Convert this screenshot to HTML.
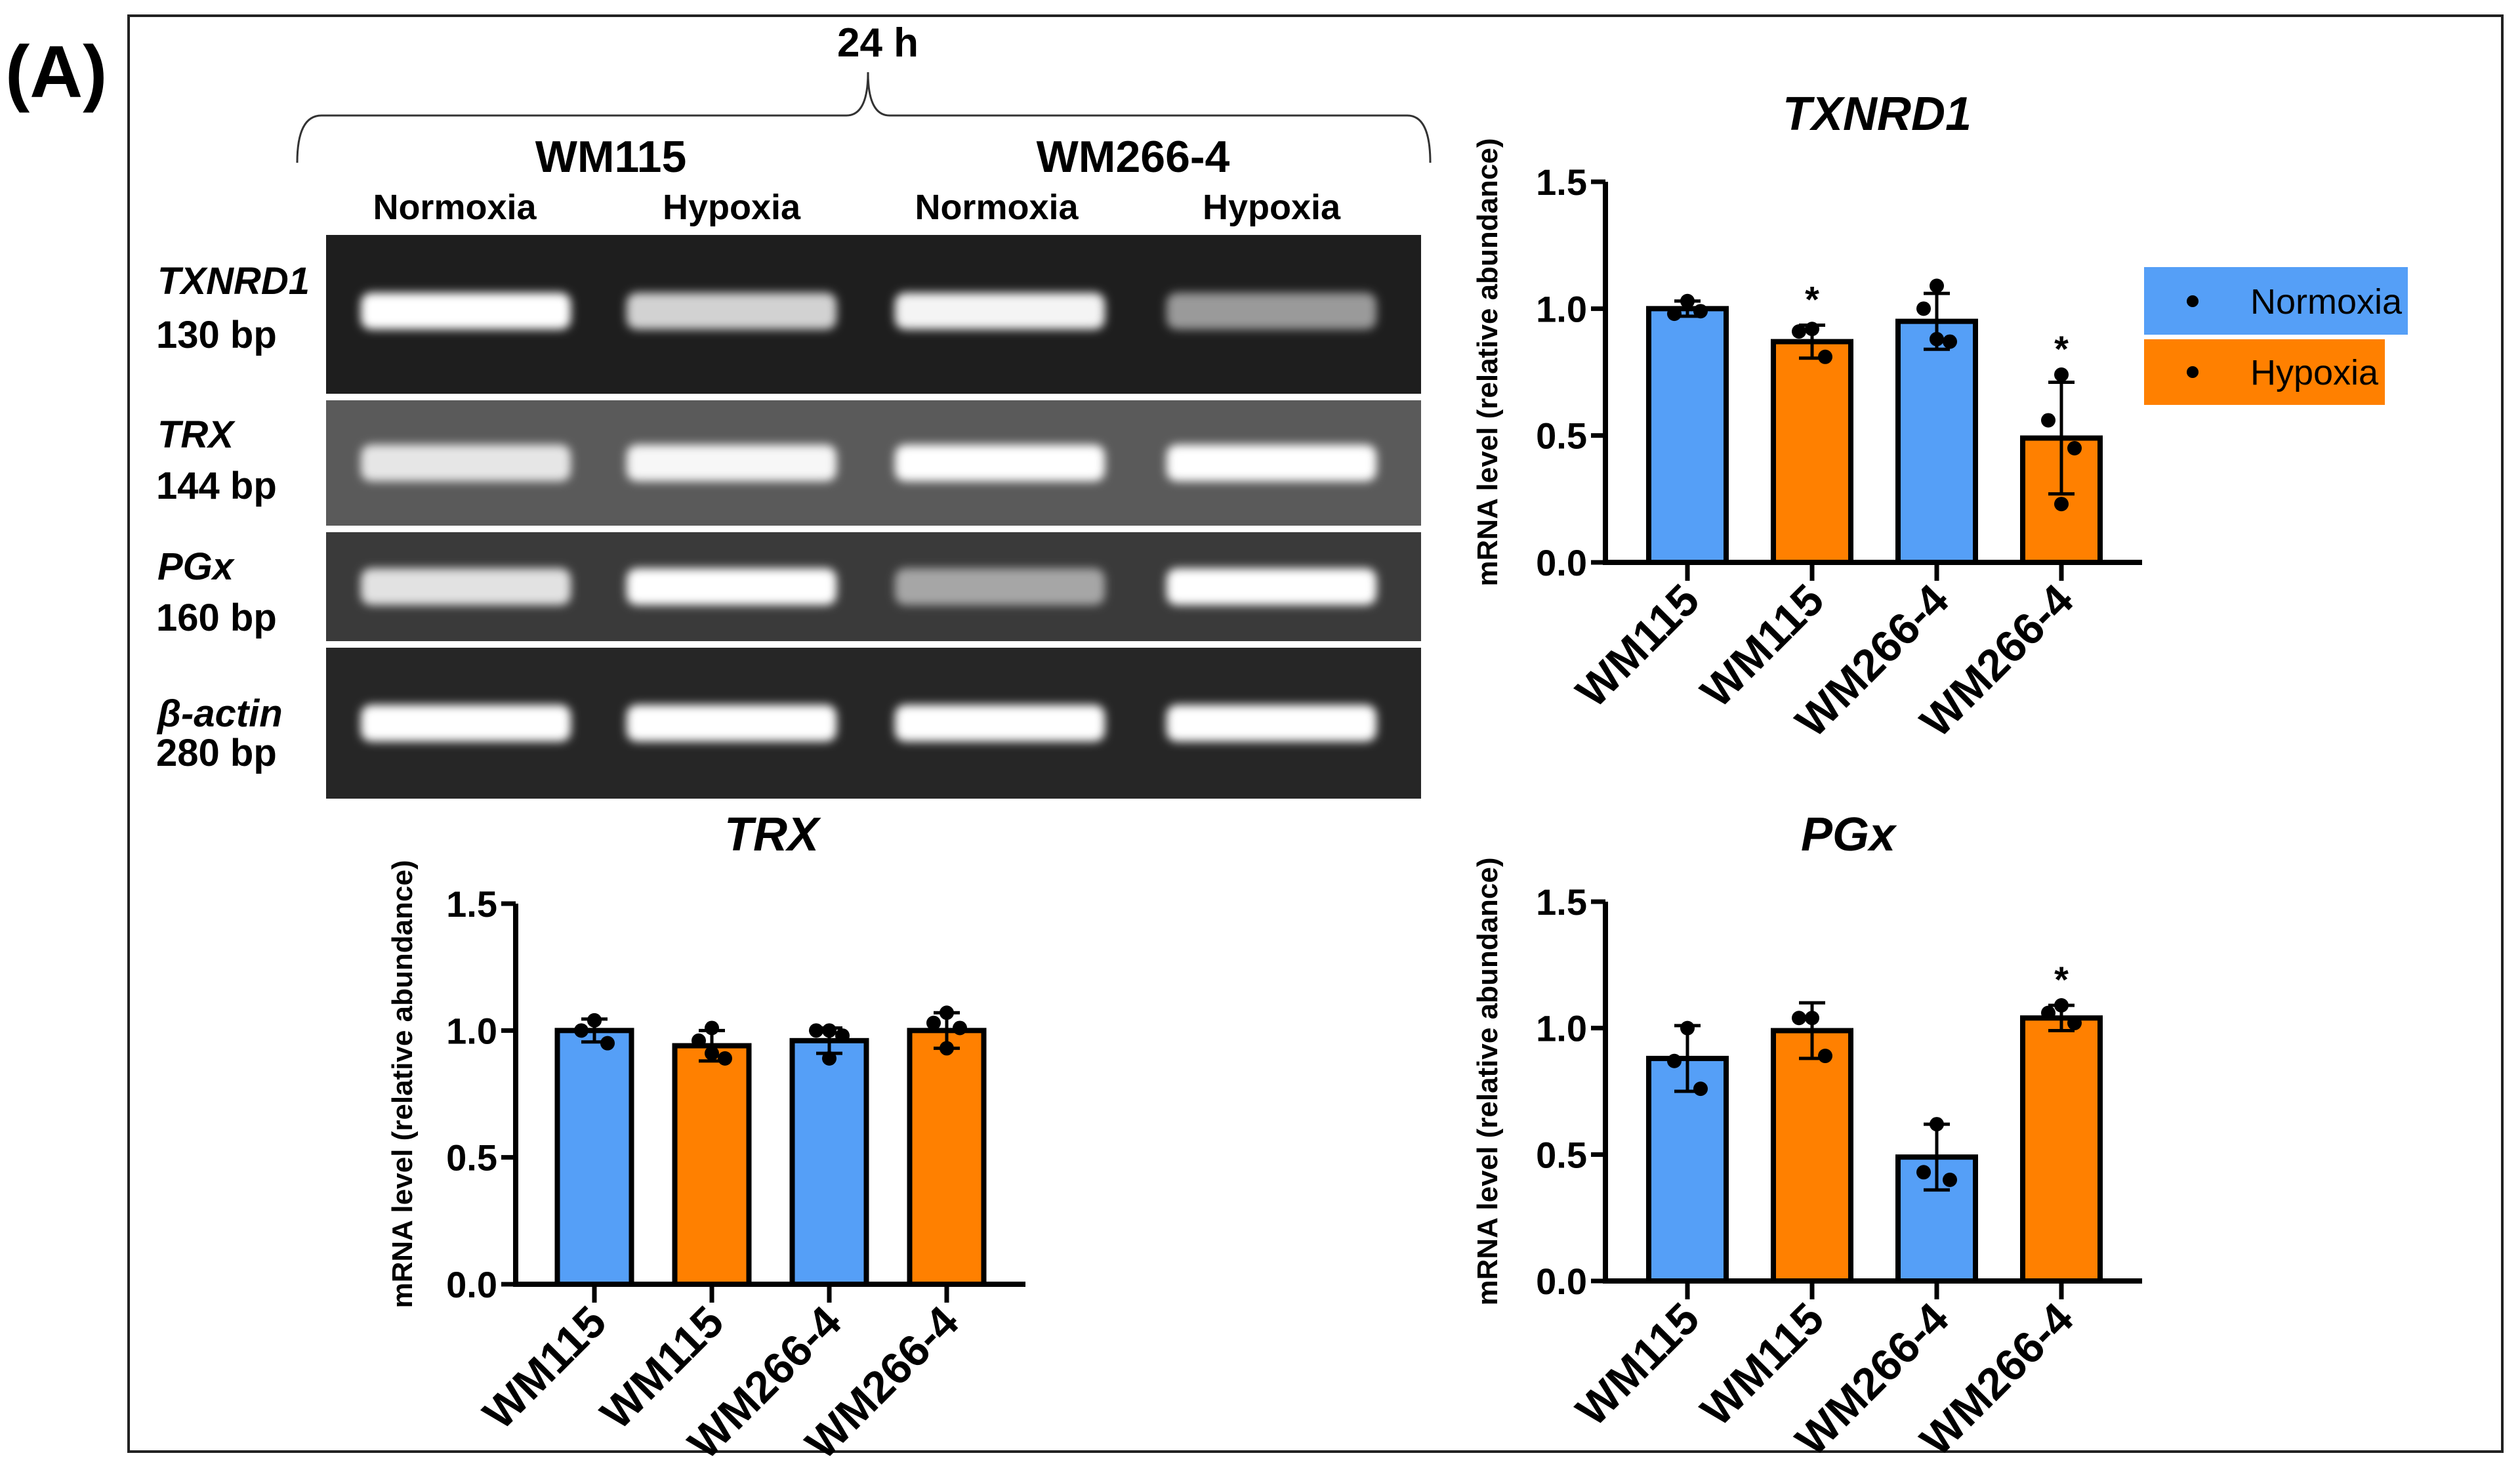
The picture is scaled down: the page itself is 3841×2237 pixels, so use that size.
<!DOCTYPE html>
<html><head><meta charset="utf-8"><style>
html,body{margin:0;padding:0;background:#fff;}
svg{display:block;}
text{font-family:"Liberation Sans",Arial,sans-serif;}
</style></head><body>
<svg id="fig" width="3841" height="2237" viewBox="0 0 3841 2237" xmlns="http://www.w3.org/2000/svg">
<defs>
<filter id="blur" x="-20%" y="-60%" width="140%" height="220%"><feGaussianBlur stdDeviation="7"/></filter>
</defs>
<rect x="196" y="24" width="3618" height="2188" fill="none" stroke="#222" stroke-width="4"/>
<text x="8" y="148" font-size="112" font-weight="bold" font-family="Liberation Sans Narrow, Liberation Sans, sans-serif">(A)</text>
<text x="1338" y="86" font-size="62" font-weight="bold" text-anchor="middle" font-family="Liberation Sans Narrow, Liberation Sans, sans-serif">24 h</text>
<path d="M453 248 Q453 176 490 176 L1290 176 Q1323 176 1323 110 Q1323 176 1356 176 L2145 176 Q2180 176 2180 248" fill="none" stroke="#333" stroke-width="3"/>
<text x="931" y="262" font-size="68" font-weight="bold" text-anchor="middle">WM115</text>
<text x="1727" y="262" font-size="68" font-weight="bold" text-anchor="middle">WM266-4</text>
<g font-size="54" font-weight="bold" text-anchor="middle" font-family="Liberation Sans Narrow, Liberation Sans, sans-serif">
<text x="693" y="334">Normoxia</text>
<text x="1115" y="334">Hypoxia</text>
<text x="1519" y="334">Normoxia</text>
<text x="1938" y="334">Hypoxia</text>
</g>
<g id="gel"></g>
<g id="charts"></g>
</svg>
<script>
const NS="http://www.w3.org/2000/svg";
function mk(tag,attrs,parent,txt){const e=document.createElementNS(NS,tag);for(const k in attrs)e.setAttribute(k,attrs[k]);if(txt!==undefined)e.textContent=txt;parent.appendChild(e);return e;}

// ---- gel data ----
const gelGenes=["TXNRD1","TRX","PGx","β-actin"];
const gelSizes=["130 bp","144 bp","160 bp","280 bp"];
const gelBg=["#1e1e1e","#5a5a5a","#3a3a3a","#262626"];
const gelIntensity=[[1,0.8,0.95,0.55],[0.85,0.95,1,1],[0.85,1,0.55,1],[1,1,1,1]];
const rowTops=[358,610,811,987], rowBots=[600,801,977,1217];
const laneX=[710,1115,1524,1938];
const gel=document.getElementById('gel');
for(let r=0;r<4;r++){
  const bg=mk('rect',{x:497,y:rowTops[r],width:1669,height:rowBots[r]-rowTops[r],fill:gelBg[r]},gel);
  
  
  const cy=(rowTops[r]+rowBots[r])/2 + (r===0?-5:0);
  for(let l=0;l<4;l++){
    const v=gelIntensity[r][l];
    const b=mk('rect',{x:laneX[l]-160,y:cy-28,width:320,height:56,rx:16,fill:'#fff','fill-opacity':v,filter:'url(#blur)'},gel);
    
    
  }
  const t1=mk('text',{x:240,y:rowTops[r]+(r===0?90:r===3?120:72),'font-size':58,'font-weight':'bold','font-style':'italic'},gel,gelGenes[r]);
  
  
  const t2=mk('text',{x:238,y:rowTops[r]+(r===0?172:r===3?180:150),'font-size':58,'font-weight':'bold'},gel,gelSizes[r]);
  
  
}

// ---- chart data ----
const categories=["WM115","WM115","WM266-4","WM266-4"];
const yTicks=[0,0.5,1.0,1.5];
const yTickLabels=["0.0","0.5","1.0","1.5"];
const txnrdMeans=[1.0,0.87,0.95,0.49];
const txnrdErr=[0.03,0.065,0.11,0.22];
const txnrdPts=[[1.03,0.98,0.99],[0.92,0.91,0.81],[1.09,1.0,0.87,0.88],[0.74,0.56,0.45,0.23]];
const txnrdStars=[false,true,false,true];
const trxMeans=[1.0,0.94,0.96,1.0];
const trxErr=[0.045,0.06,0.05,0.07];
const trxPts=[[1.04,1.0,0.95,1.04],[1.01,0.96,0.89,0.91],[1.0,1.0,0.98,0.89],[1.07,1.03,1.01,0.93]];
const trxStars=[false,false,false,false];
const pgxMeans=[0.88,0.99,0.49,1.04];
const pgxErr=[0.13,0.11,0.13,0.05];
const pgxPts=[[1.0,0.87,0.76],[1.04,1.04,0.89],[0.62,0.43,0.40],[1.09,1.06,1.02]];
const pgxStars=[false,false,false,true];
const barColors=["#559ff7","#ff8000","#559ff7","#ff8000"];

function drawChart(cfg){
  const g=mk('g',{},document.getElementById('charts'));
  
  
  const y0=cfg.y0,y1=cfg.y1,ax=cfg.ax,axEnd=cfg.axEnd;
  const ys=v=>y0-(v/1.5)*(y0-y1);
  const xs=i=>ax+cfg.off+cfg.step*i;
  const bw=cfg.bw;
  const t=mk('text',{x:cfg.tx,y:cfg.ty,'font-size':72,'font-weight':'bold','font-style':'italic','text-anchor':'middle'},g,cfg.title);
  
  
  const yt=mk('text',{transform:`translate(${ax-cfg.titleOff},${(y0+y1)/2-15}) rotate(-90)`,'font-size':44,'font-weight':'bold','text-anchor':'middle'},g,'mRNA level (relative abundance)');
  
  
  yTicks.forEach((v,i)=>{
    const tl=mk('line',{x1:ax-22,x2:ax,y1:ys(v),y2:ys(v),stroke:'#000','stroke-width':7},g);
    
    
    const tt=mk('text',{x:ax-28,y:ys(v)+20,'font-size':56,'font-weight':'bold','text-anchor':'end'},g,yTickLabels[i]);
    
    
  });
  categories.forEach((c,i)=>{
    const x=xs(i);
    const b=mk('rect',{x:x-bw/2,y:ys(cfg.means[i]),width:bw,height:y0-ys(cfg.means[i]),fill:barColors[i],stroke:'#000','stroke-width':8},g);
    
    
    const e=cfg.err[i],m=cfg.means[i];
    const eb=mk('path',{d:`M${x} ${ys(m+e)}V${ys(m-e)}M${x-20} ${ys(m+e)}H${x+20}M${x-20} ${ys(m-e)}H${x+20}`,stroke:'#000','stroke-width':5,fill:'none'},g);
    
    
    cfg.pts[i].forEach((p,j)=>{
      const off=[0,-20,20,0][j%4];
      const d=mk('circle',{cx:x+off,cy:ys(p),r:11,fill:'#000'},g);
      
      
    });
    if(cfg.stars[i]){
      const top=Math.max(m+e,...cfg.pts[i]);
      const s=mk('text',{x:x,y:ys(top)-20,'font-size':56,'font-weight':'bold','text-anchor':'middle'},g,'*');
      
      
    }
    const tk=mk('line',{x1:x,x2:x,y1:y0,y2:y0+28,stroke:'#000','stroke-width':7},g);
    
    
    const xl=mk('text',{transform:`translate(${x+22},${y0+62}) rotate(-45)`,'font-size':68,'font-weight':'bold','text-anchor':'end'},g,c);
    
    
  });
  const axes=mk('path',{d:`M${ax} ${y1}V${y0}H${axEnd}`,stroke:'#000','stroke-width':8,fill:'none'},g);
  
  
}
drawChart({name:'txnrd1-chart',title:'TXNRD1',tx:2861,ty:198,ax:2447,axEnd:3265,y0:857,y1:277,bw:118,off:125,step:190,titleOff:165,means:txnrdMeans,err:txnrdErr,pts:txnrdPts,stars:txnrdStars});
drawChart({name:'trx-chart',title:'TRX',tx:1176,ty:1296,ax:786,axEnd:1563,y0:1957,y1:1377,bw:113,off:120,step:179,titleOff:158,means:trxMeans,err:trxErr,pts:trxPts,stars:trxStars});
drawChart({name:'pgx-chart',title:'PGx',tx:2817,ty:1296,ax:2447,axEnd:3265,y0:1952,y1:1374,bw:118,off:125,step:190,titleOff:165,means:pgxMeans,err:pgxErr,pts:pgxPts,stars:pgxStars});

// legend
const ch=document.getElementById('charts');
const lg=mk('g',{},ch);


const l1=mk('rect',{x:3268,y:407,width:402,height:103,fill:'#559ff7'},lg);


const l2=mk('rect',{x:3268,y:517,width:367,height:100,fill:'#ff8000'},lg);


mk('circle',{cx:3342,cy:459,r:9,fill:'#000'},lg);
mk('circle',{cx:3342,cy:567,r:9,fill:'#000'},lg);
const lt1=mk('text',{x:3430,y:478,'font-size':54,'font-family':'Liberation Sans Narrow, Liberation Sans, sans-serif'},lg,'Normoxia');


const lt2=mk('text',{x:3430,y:586,'font-size':54,'font-family':'Liberation Sans Narrow, Liberation Sans, sans-serif'},lg,'Hypoxia');


</script>
</body></html>
